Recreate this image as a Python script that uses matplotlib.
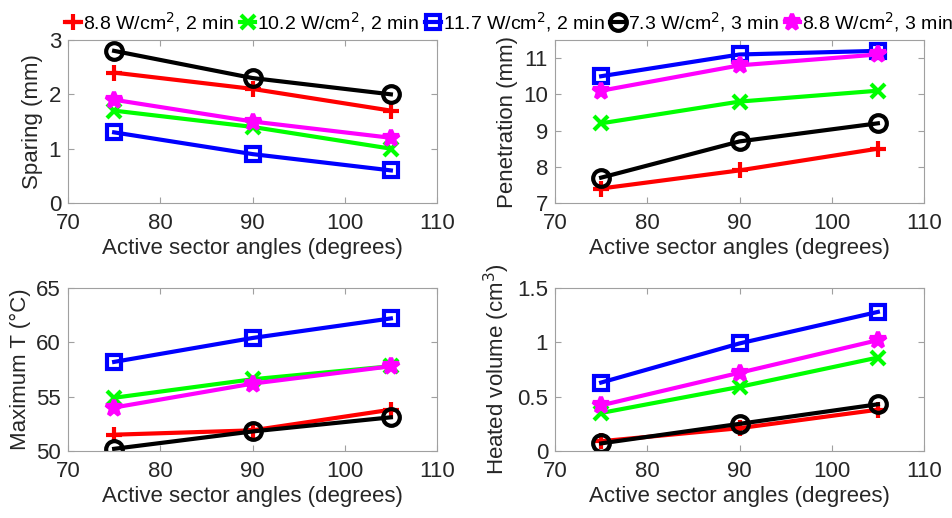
import matplotlib
matplotlib.use('Agg')
import matplotlib.pyplot as plt
from matplotlib import font_manager

plt.rcParams['font.family'] = ['Liberation Sans', 'DejaVu Sans']
names = set(f.name for f in font_manager.fontManager.ttflist)
legend_family = 'Liberation Sans Narrow' if 'Liberation Sans Narrow' in names else 'Liberation Sans'

angles = [75, 90, 105]
labels = ['8.8 W/cm$^2$, 2 min', '10.2 W/cm$^2$, 2 min', '11.7 W/cm$^2$, 2 min',
          '7.3 W/cm$^2$, 3 min', '8.8 W/cm$^2$, 3 min']
colors = ['#ff0000', '#00ff00', '#0000ff', '#000000', '#ff00ff']
markers = ['+', 'x', 's', 'o', '*']

sparing = [[2.4, 2.1, 1.7], [1.7, 1.4, 1.0], [1.3, 0.9, 0.6],
           [2.8, 2.3, 2.0], [1.9, 1.5, 1.2]]
penetration = [[7.4, 7.9, 8.5], [9.2, 9.8, 10.1], [10.5, 11.1, 11.2],
               [7.7, 8.7, 9.2], [10.1, 10.8, 11.1]]
max_temp = [[51.5, 51.9, 53.8], [54.9, 56.6, 57.8], [58.2, 60.4, 62.2],
            [50.2, 51.8, 53.1], [54.0, 56.2, 57.8]]
heated_vol = [[0.09, 0.21, 0.38], [0.35, 0.59, 0.86], [0.63, 0.99, 1.28],
              [0.07, 0.25, 0.43], [0.42, 0.72, 1.02]]

panels = [
    (sparing, 'Sparing (mm)', (0, 3), [0, 1, 2, 3]),
    (penetration, 'Penetration (mm)', (7, 11.5), [7, 8, 9, 10, 11]),
    (max_temp, 'Maximum T (°C)', (50, 65), [50, 55, 60, 65]),
    (heated_vol, 'Heated volume (cm$^3$)', (0, 1.5), [0, 0.5, 1, 1.5]),
]

fig = plt.figure(figsize=(9.52, 5.18), dpi=100)
W, H = 952, 518
boxes = [(68, 40), (555, 40), (68, 288), (555, 288)]
bw, bh = 369, 163

handles = []
for (data, ylabel, ylim, yticks), (x0, y0) in zip(panels, boxes):
    ax = fig.add_axes([x0 / W, 1 - (y0 + bh) / H, bw / W, bh / H])
    for i, series in enumerate(data):
        ms = 12 if markers[i] in ('o', '*', '+') else 10
        ln, = ax.plot(angles, series, color=colors[i], marker=markers[i], lw=3,
                      ms=ms, mew=3, mfc='none' if markers[i] in ('s', 'o') else colors[i],
                      label=labels[i])
        if len(handles) < 5:
            handles.append(ln)
    ax.set_xlim(70, 110)
    ax.set_xticks([70, 80, 90, 100, 110])
    ax.set_ylim(*ylim)
    ax.set_yticks(yticks)
    ax.set_yticklabels([('%g' % t) for t in yticks])
    ax.set_xlabel('Active sector angles (degrees)', fontsize=16, color='#262626', labelpad=3)
    ax.set_ylabel(ylabel, fontsize=16, color='#262626', labelpad=4)
    ax.tick_params(axis='x', pad=7)
    ax.tick_params(axis='y', pad=5)
    ax.tick_params(direction='in', length=4, labelsize=16, colors='#262626',
                   top=True, right=True)
    for s in ax.spines.values():
        s.set_color('#a0a0a0')
    ax.tick_params(which='both', color='#a0a0a0')

fig.legend(handles=handles, loc='upper center', bbox_to_anchor=(0.535, 1.015), ncol=5,
           frameon=False, prop={'family': legend_family, 'size': 14},
           handlelength=0.8, handletextpad=0.1, columnspacing=0.3)

fig.savefig('out.png', dpi=100)
